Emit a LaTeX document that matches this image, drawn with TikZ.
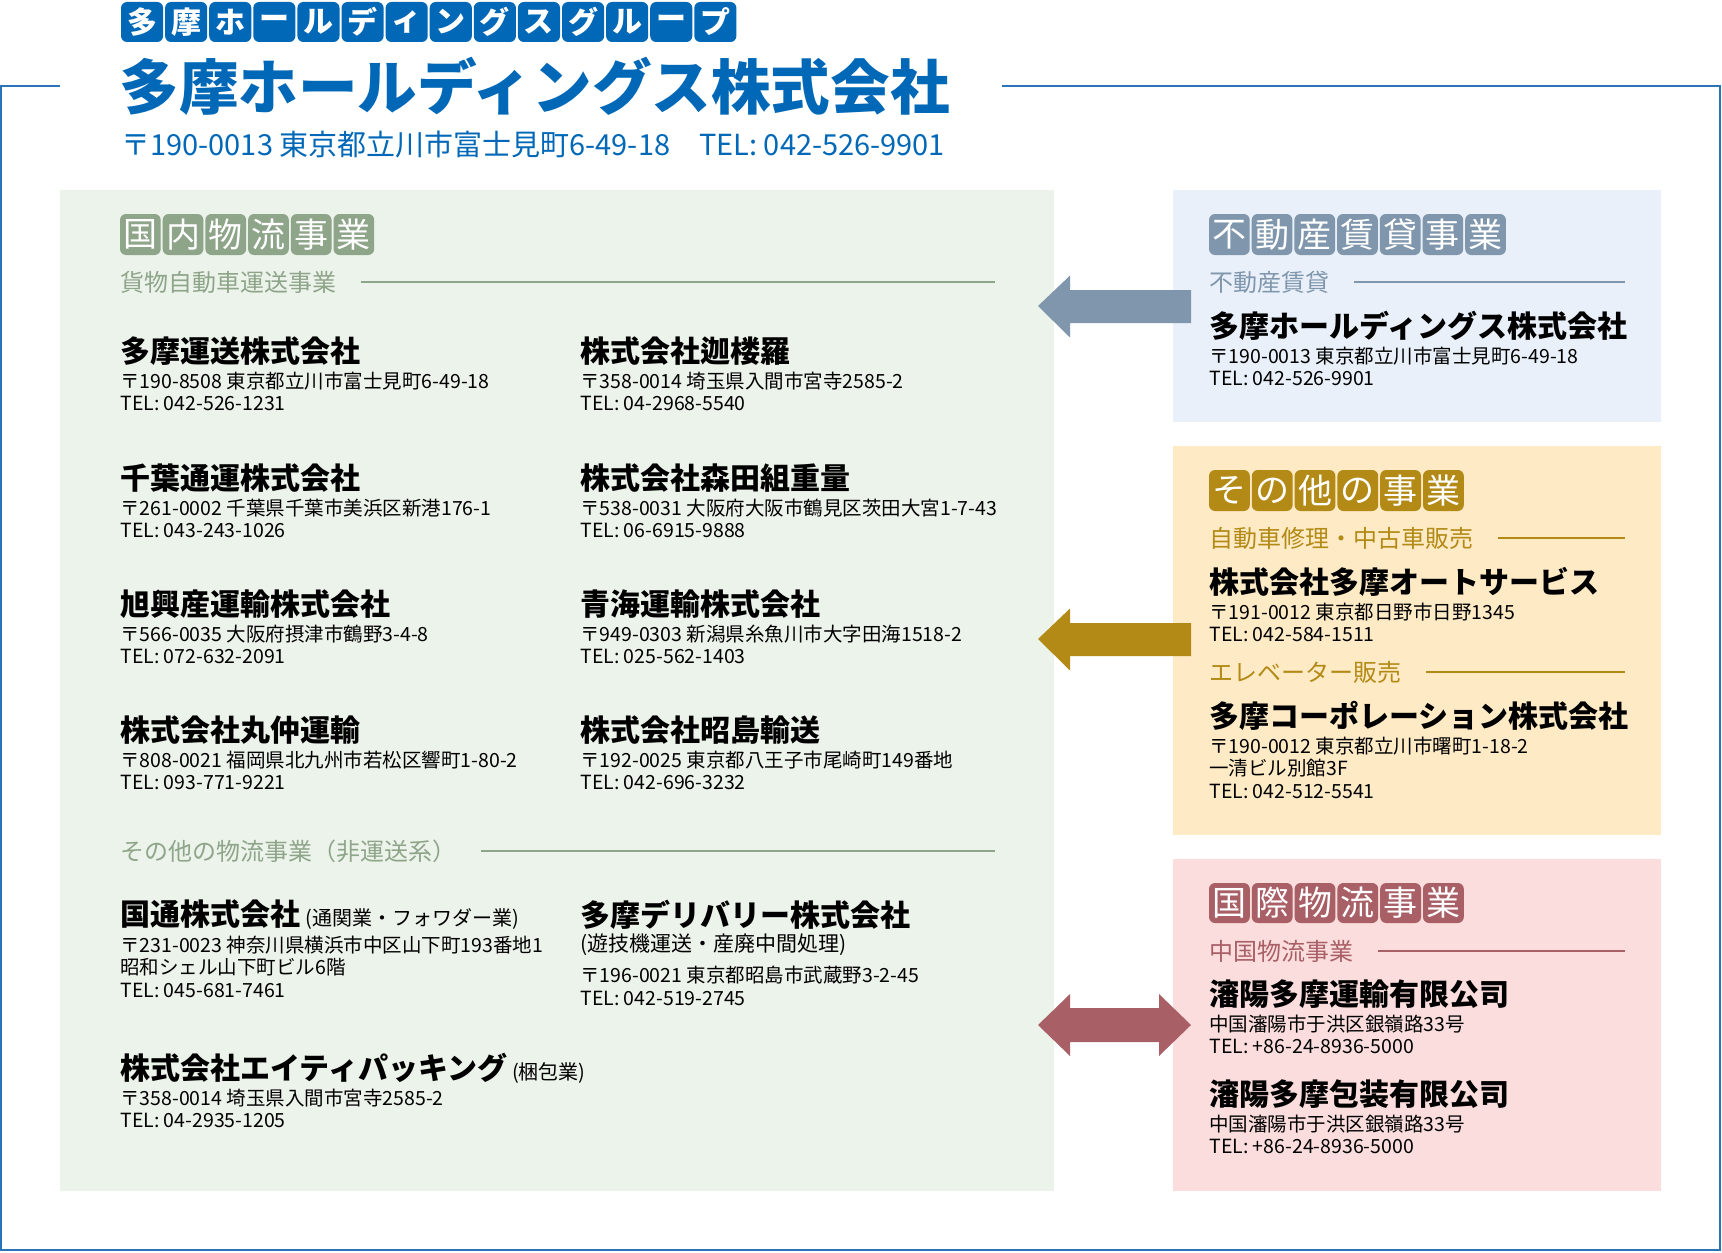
\documentclass[tikz,border=0pt]{standalone}
\usepackage{fontspec}
\setmainfont{Noto Sans CJK JP}
\usetikzlibrary{positioning}
\usetikzlibrary{calc}

\definecolor{tamablue}{HTML}{0068B7}
\definecolor{framec}{HTML}{2A74B8}
\definecolor{greenbg}{HTML}{ECF3EA}
\definecolor{greentl}{HTML}{8EA58A}
\definecolor{bluebg}{HTML}{E9F0F9}
\definecolor{bluetl}{HTML}{7F96AC}
\definecolor{yellowbg}{HTML}{FEEBC6}
\definecolor{yellowtl}{HTML}{B38A15}
\definecolor{pinkbg}{HTML}{FADDDC}
\definecolor{pinktl}{HTML}{A95F66}

\tikzset{
  firm/.style={anchor=west, inner sep=0pt, font=\fontsize{15}{18}\selectfont\bfseries},
  addr/.style={anchor=west, inner sep=0pt, font=\fontsize{9.75}{12}\selectfont},
  subhd/.style={anchor=west, inner sep=0pt, font=\fontsize{12}{14}\selectfont},
  tiletxt/.style={inner sep=0pt, text=white, font=\fontsize{17}{20}\selectfont},
}

% one firm: node name, x, y, firm name, address lines
\newcommand\tamafirm[5]{%
  \node[firm] (#1) at (#2,#3) {#4};
  \foreach \l [count=\k] in {#5}
    \node[addr] (#1-\k) at (#2,#3+7.5+\k*22.5) {\l};
}

% row of tiles: prefix, x, y top, pitch, height, colour, characters
\newcommand\tilerow[7]{%
  \foreach \c [count=\i from 0] in {#7} {
    \fill[#6, rounded corners=3pt] (#2+\i*#4,#3) rectangle ++(#4-2,#5);
    \node[tiletxt] (#1\i) at (#2+\i*#4+#4/2-1,#3+#5/2) {\c};
  }
}

% sub heading with its rule: node name, x, y, text, end of rule, colour
\newcommand\subhead[6]{%
  \node[subhd, text=#6] (#1) at (#2,#3) {#4};
  \draw[#6, line width=0.7pt] ([xshift=12pt]#1.east) -- (#5,#3);
}

\begin{document}
\begin{tikzpicture}[x=0.5pt, y=-0.5pt]
  \useasboundingbox (0,0) rectangle (1722,1252);

  % outer frame, open behind the title
  \draw[framec, line width=1pt] (60,86) -- (1,86) -- (1,1250) -- (1720,1250) -- (1720,86) -- (1002,86);

  % panels
  \fill[greenbg] (60,190) rectangle (1054,1191);
  \fill[bluebg] (1173,190) rectangle (1661,422);
  \fill[yellowbg] (1173,446) rectangle (1661,835);
  \fill[pinkbg] (1173,859) rectangle (1661,1191);

  % block arrows between the panels
  \coordinate (rent-tip) at (1038,306);
  \coordinate (other-tip) at (1038,639);
  \coordinate (intl-tip) at (1038,1025);
  \fill[bluetl] (rent-tip) -- ++(32,-30.5) -- ++(0,14.5) -- ++(121,0) -- ++(0,33) -- ++(-121,0) -- ++(0,14.5) -- cycle;
  \fill[yellowtl] (other-tip) -- ++(32,-30.5) -- ++(0,14.5) -- ++(121,0) -- ++(0,33) -- ++(-121,0) -- ++(0,14.5) -- cycle;
  \fill[pinktl] (intl-tip) -- ++(32,-31) -- ++(0,14) -- ++(89,0) -- ++(0,-14) -- ++(32,31) -- ++(-32,31) -- ++(0,-14) -- ++(-89,0) -- ++(0,14) -- cycle;

  % group name, title and address
  \tikzset{tiletxt/.append style={font=\fontsize{15}{18}\selectfont\bfseries}}
  \tilerow{g}{121}{2}{44.1}{40}{tamablue}{多,摩,ホ,ー,ル,デ,ィ,ン,グ,ス,グ,ル,ー,プ}
  \tikzset{tiletxt/.append style={font=\fontsize{17}{20}\selectfont}}
  \node[anchor=west, inner sep=0pt, text=tamablue, font=\fontsize{29.8}{32}\selectfont\bfseries] (title) at (119,86) {多摩ホールディングス株式会社};
  \node[anchor=west, inner sep=0pt, text=tamablue, font=\fontsize{14.5}{16}\selectfont] (title-addr) at (121,145) {〒190-0013 東京都立川市富士見町6-49-18　TEL: 042-526-9901};

  % domestic logistics
  \tilerow{d}{120}{214}{42.7}{41}{greentl}{国,内,物,流,事,業}
  \subhead{dsub1}{120}{282}{貨物自動車運送事業}{995}{greentl}
  \tamafirm{f1}{120}{351}{多摩運送株式会社}{〒190-8508 東京都立川市富士見町6-49-18, TEL: 042-526-1231}
  \tamafirm{f2}{580}{351}{株式会社迦楼羅}{〒358-0014 埼玉県入間市宮寺2585-2, TEL: 04-2968-5540}
  \tamafirm{f3}{120}{478}{千葉通運株式会社}{〒261-0002 千葉県千葉市美浜区新港176-1, TEL: 043-243-1026}
  \tamafirm{f4}{580}{478}{株式会社森田組重量}{〒538-0031 大阪府大阪市鶴見区茨田大宮1-7-43, TEL: 06-6915-9888}
  \tamafirm{f5}{120}{604}{旭興産運輸株式会社}{〒566-0035 大阪府摂津市鶴野3-4-8, TEL: 072-632-2091}
  \tamafirm{f6}{580}{604}{青海運輸株式会社}{〒949-0303 新潟県糸魚川市大字田海1518-2, TEL: 025-562-1403}
  \tamafirm{f7}{120}{730}{株式会社丸仲運輸}{〒808-0021 福岡県北九州市若松区響町1-80-2, TEL: 093-771-9221}
  \tamafirm{f8}{580}{730}{株式会社昭島輸送}{〒192-0025 東京都八王子市尾崎町149番地, TEL: 042-696-3232}

  \subhead{dsub2}{120}{851}{その他の物流事業（非運送系）}{995}{greentl}
  \tamafirm{f9}{120}{915}{国通株式会社\,{\fontsize{10}{12}\selectfont\mdseries (通関業・フォワダー業)}}{〒231-0023 神奈川県横浜市中区山下町193番地1, 昭和シェル山下町ビル6階, TEL: 045-681-7461}
  \node[firm] (f10) at (580,915) {多摩デリバリー株式会社};
  \node[addr, font=\fontsize{10.5}{13}\selectfont] (f10-1) at (580,945) {(遊技機運送・産廃中間処理)};
  \node[addr] (f10-2) at (580,975) {〒196-0021 東京都昭島市武蔵野3-2-45};
  \node[addr] (f10-3) at (580,998) {TEL: 042-519-2745};
  \tamafirm{f11}{120}{1068}{株式会社エイティパッキング\,{\fontsize{10}{12}\selectfont\mdseries (梱包業)}}{〒358-0014 埼玉県入間市宮寺2585-2, TEL: 04-2935-1205}

  % real estate
  \tilerow{r}{1209}{214}{42.7}{41}{bluetl}{不,動,産,賃,貸,事,業}
  \subhead{rsub}{1209}{282}{不動産賃貸}{1625}{bluetl}
  \tamafirm{f12}{1209}{326}{多摩ホールディングス株式会社}{〒190-0013 東京都立川市富士見町6-49-18, TEL: 042-526-9901}

  % other business
  \tilerow{o}{1209}{470}{42.8}{41}{yellowtl}{そ,の,他,の,事,業}
  \subhead{osub1}{1209}{538}{自動車修理・中古車販売}{1625}{yellowtl}
  \tamafirm{f13}{1209}{582}{株式会社多摩オートサービス}{〒191-0012 東京都日野市日野1345, TEL: 042-584-1511}
  \subhead{osub2}{1209}{672}{エレベーター販売}{1625}{yellowtl}
  \tamafirm{f14}{1209}{716}{多摩コーポレーション株式会社}{〒190-0012 東京都立川市曙町1-18-2, 一清ビル別館3F, TEL: 042-512-5541}

  % international logistics
  \tilerow{i}{1209}{883}{42.8}{40}{pinktl}{国,際,物,流,事,業}
  \subhead{isub}{1209}{951}{中国物流事業}{1625}{pinktl}
  \tamafirm{f15}{1209}{994}{瀋陽多摩運輸有限公司}{中国瀋陽市于洪区銀嶺路33号, TEL: +86-24-8936-5000}
  \tamafirm{f16}{1209}{1094}{瀋陽多摩包装有限公司}{中国瀋陽市于洪区銀嶺路33号, TEL: +86-24-8936-5000}
\end{tikzpicture}
\end{document}
